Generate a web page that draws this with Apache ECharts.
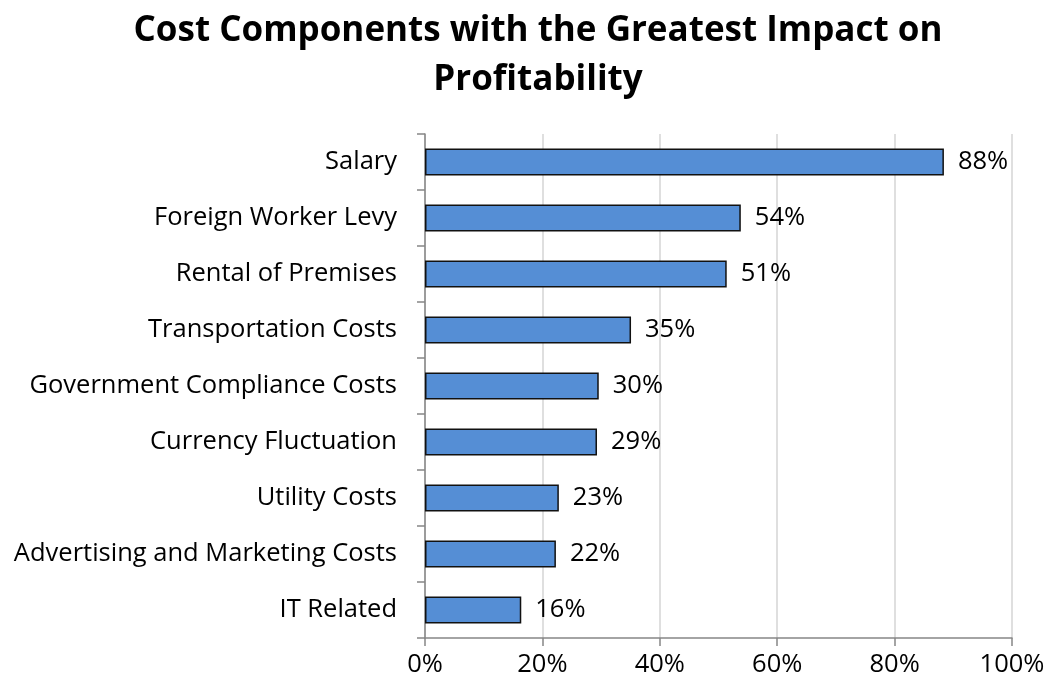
<!DOCTYPE html>
<html style="height: 100%">
<head>
  <meta charset="utf-8">
  <title>Cost Components with the Greatest Impact on Profitability</title>
  <script src="https://cdn.jsdelivr.net/npm/echarts@6/dist/echarts.min.js"></script>
</head>
<body style="height: 100%; margin: 0; background: #fff">
  <div id="main" style="width: 1050px; height: 689px"></div>
  <script type="text/javascript">
    var categories = ['Salary', 'Foreign Worker Levy', 'Rental of Premises', 'Transportation Costs',
      'Government Compliance Costs', 'Currency Fluctuation', 'Utility Costs',
      'Advertising and Marketing Costs', 'IT Related'];
    var values = [88.4, 53.8, 51.4, 35.1, 29.6, 29.3, 22.8, 22.3, 16.4];
    var xTicks = [0, 20, 40, 60, 80, 100];

    var font = '"Open Sans", Lato, sans-serif';

    var option = {
      animation: false,
      title: {
        text: 'Cost Components with the Greatest Impact on\nProfitability',
        left: 533,
        top: 2,
        textAlign: 'center',
        textStyle: {
          fontFamily: font,
          fontSize: 35,
          fontWeight: 'bold',
          color: '#000',
          lineHeight: 49
        }
      },
      grid: {
        left: 425,
        right: 38,
        top: 134,
        bottom: 51
      },
      xAxis: {
        type: 'value',
        min: xTicks[0],
        max: xTicks[xTicks.length - 1],
        interval: 20,
        axisLine: { show: true, lineStyle: { color: '#868686', width: 1.5 } },
        axisTick: { show: true, length: 8, lineStyle: { color: '#868686', width: 1.5 } },
        splitLine: { show: true, lineStyle: { color: '#d4d4d4', width: 1.5 } },
        axisLabel: {
          margin: 14,
          fontFamily: font,
          fontSize: 25.5,
          color: '#000',
          formatter: '{value}%'
        }
      },
      yAxis: {
        type: 'category',
        inverse: true,
        data: categories,
        axisLine: { show: true, lineStyle: { color: '#868686', width: 1.5 } },
        axisTick: { show: true, length: 8, lineStyle: { color: '#868686', width: 1.5 } },
        axisLabel: {
          margin: 28,
          fontFamily: font,
          fontSize: 25.5,
          color: '#000'
        }
      },
      series: [
        {
          type: 'bar',
          data: values,
          barWidth: '48%',
          itemStyle: {
            color: '#558ed5',
            borderColor: '#111',
            borderWidth: 1.5
          },
          label: {
            show: true,
            position: 'right',
            distance: 14,
            fontFamily: font,
            fontSize: 25.5,
            color: '#000',
            formatter: function (p) {
              return Math.round(p.value) + '%';
            }
          }
        }
      ]
    };

    var chart = echarts.init(document.getElementById('main'));
    chart.setOption(option);
  </script>
</body>
</html>
